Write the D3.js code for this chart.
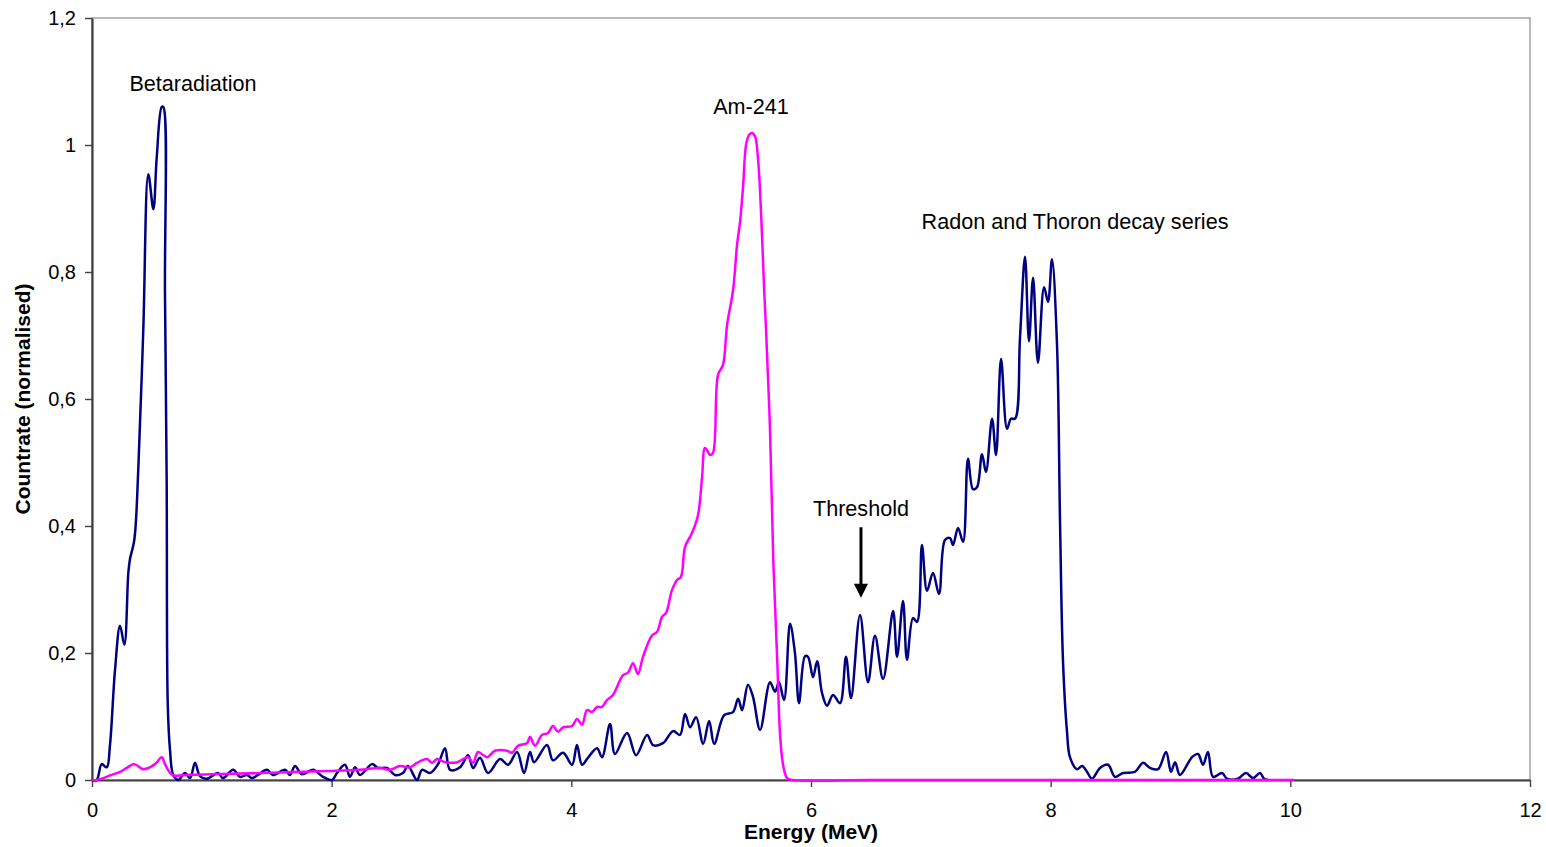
<!DOCTYPE html>
<html>
<head>
<meta charset="utf-8">
<script src="https://cdn.jsdelivr.net/npm/d3@7"></script>
<style>
  body { margin: 0; background: #fff; }
  text { font-family: "Liberation Sans", Arial, sans-serif; fill: #000; }
</style>
</head>
<body>
<svg width="1546" height="847"></svg>
<script>
// measured spectrum (dark blue), energy in MeV and normalised countrate
var spectrumEnergy = [0, 0.039, 0.081, 0.123, 0.150, 0.192, 0.234, 0.270, 0.303, 0.317, 0.353, 0.386, 0.428, 0.470, 0.512, 0.540, 0.582, 0.595, 0.609, 0.623, 0.632, 0.651, 0.678, 0.720,
    0.776, 0.818, 0.860, 0.901, 0.960, 1.051, 1.093, 1.177, 1.235, 1.293, 1.335, 1.385, 1.460, 1.510, 1.611, 1.652, 1.694, 1.752, 1.844, 1.928, 2.003, 2.044, 2.111, 2.153, 2.195, 2.236, 2.337, 2.387,
    2.462, 2.529, 2.595, 2.637, 2.712, 2.754, 2.821, 2.888, 2.946, 2.988, 3.071, 3.138, 3.180, 3.238, 3.305, 3.405, 3.472, 3.547, 3.605, 3.655, 3.689, 3.797, 3.847, 3.931, 4.006, 4.047, 4.089, 4.139,
    4.214, 4.256, 4.323, 4.364, 4.465, 4.540, 4.632, 4.682, 4.765, 4.849, 4.907, 4.949, 4.991, 5.041, 5.100, 5.150, 5.192, 5.275, 5.349, 5.392, 5.425, 5.474, 5.516, 5.575, 5.658, 5.700, 5.733, 5.775,
    5.825, 5.866, 5.900, 5.950, 5.975, 6.017, 6.051, 6.092, 6.134, 6.184, 6.242, 6.292, 6.334, 6.409, 6.476, 6.534, 6.601, 6.685, 6.718, 6.768, 6.801, 6.851, 6.885, 6.926, 6.968, 7.018, 7.068, 7.118,
    7.160, 7.185, 7.227, 7.269, 7.310, 7.352, 7.385, 7.427, 7.460, 7.511, 7.544, 7.586, 7.636, 7.669, 7.703, 7.744, 7.786, 7.819, 7.853, 7.894, 7.945, 7.978, 8.011, 8.053, 8.078, 8.103, 8.136, 8.161,
    8.220, 8.262, 8.303, 8.345, 8.412, 8.479, 8.537, 8.604, 8.704, 8.771, 8.829, 8.896, 8.963, 9.004, 9.038, 9.079, 9.180, 9.230, 9.271, 9.313, 9.355, 9.430, 9.472, 9.563, 9.630, 9.689, 9.747, 9.781, 9.814];
var spectrumCount = [0, 0, 0.025, 0.020, 0.055, 0.173, 0.243, 0.213, 0.326, 0.348, 0.378, 0.488, 0.709, 0.954, 0.899, 0.980, 1.060, 1.060, 0.767, 0.474, 0.121, 0.047, 0.008, 0,
    0.011, 0.003, 0.027, 0.006, 0.002, 0.011, 0.003, 0.016, 0.005, 0.008, 0.003, 0.008, 0.016, 0.008, 0.016, 0.008, 0.022, 0.009, 0.016, 0.005, 0, 0.011, 0.024, 0.005, 0.020, 0.008, 0.025, 0.019,
    0.019, 0.008, 0.011, 0.022, 0, 0.016, 0.011, 0.025, 0.050, 0.016, 0.020, 0.039, 0.019, 0.035, 0.011, 0.033, 0.024, 0.044, 0.011, 0.044, 0.028, 0.055, 0.031, 0.043, 0.024, 0.055, 0.024, 0.035,
    0.050, 0.036, 0.088, 0.041, 0.074, 0.039, 0.071, 0.055, 0.058, 0.077, 0.071, 0.104, 0.083, 0.099, 0.057, 0.093, 0.057, 0.102, 0.107, 0.128, 0.110, 0.150, 0.131, 0.079, 0.154, 0.139, 0.154, 0.126,
    0.246, 0.200, 0.121, 0.195, 0.194, 0.162, 0.187, 0.137, 0.117, 0.134, 0.121, 0.194, 0.129, 0.260, 0.154, 0.227, 0.159, 0.266, 0.194, 0.282, 0.189, 0.255, 0.249, 0.370, 0.298, 0.326, 0.293, 0.378,
    0.381, 0.370, 0.397, 0.375, 0.506, 0.458, 0.461, 0.513, 0.485, 0.569, 0.512, 0.663, 0.553, 0.569, 0.569, 0.696, 0.824, 0.691, 0.791, 0.657, 0.776, 0.753, 0.820, 0.685, 0.408, 0.187, 0.077, 0.036,
    0.017, 0.022, 0.013, 0.002, 0.019, 0.024, 0.005, 0.011, 0.013, 0.027, 0.019, 0.017, 0.044, 0.013, 0.028, 0.008, 0.036, 0.041, 0.024, 0.044, 0.005, 0.011, 0.002, 0.002, 0.011, 0.003, 0.011, 0.002, 0];

// Am-241 reference spectrum (magenta)
var amEnergy = [0, 0.040, 0.164, 0.248, 0.290, 0.353, 0.428, 0.526, 0.582, 0.609, 0.670, 0.776, 1.402, 1.961, 2.236, 2.403, 2.487, 2.570, 2.654, 2.712, 2.796, 2.837, 2.879, 2.946, 3.046,
    3.138, 3.180, 3.221, 3.296, 3.363, 3.463, 3.505, 3.555, 3.630, 3.655, 3.697, 3.755, 3.805, 3.847, 3.889, 3.931, 4.006, 4.047, 4.089, 4.131, 4.173, 4.214, 4.256, 4.298, 4.348, 4.431, 4.473, 4.515,
    4.556, 4.598, 4.674, 4.715, 4.757, 4.790, 4.840, 4.882, 4.915, 4.949, 5.007, 5.057, 5.091, 5.116, 5.158, 5.182, 5.224, 5.266, 5.300, 5.350, 5.383, 5.408, 5.433, 5.458, 5.484, 5.509, 5.534, 5.559,
    5.584, 5.609, 5.625, 5.658, 5.686, 5.719, 5.742, 5.767, 5.800, 5.842, 6.5, 8.0, 10.03];
var amCount = [0, 0, 0.008, 0.014, 0.019, 0.025, 0.017, 0.025, 0.036, 0.025, 0.008, 0.008, 0.011, 0.014, 0.016, 0.019, 0.016, 0.022, 0.020, 0.027, 0.033, 0.027, 0.033, 0.028, 0.028,
    0.036, 0.027, 0.044, 0.036, 0.046, 0.046, 0.043, 0.054, 0.058, 0.068, 0.054, 0.071, 0.074, 0.085, 0.076, 0.083, 0.085, 0.096, 0.087, 0.110, 0.107, 0.115, 0.115, 0.126, 0.134, 0.165, 0.169, 0.184,
    0.167, 0.194, 0.228, 0.233, 0.257, 0.263, 0.299, 0.315, 0.320, 0.367, 0.389, 0.417, 0.477, 0.523, 0.512, 0.515, 0.638, 0.654, 0.717, 0.772, 0.843, 0.879, 0.934, 1.000, 1.016, 1.019, 1.013, 0.976,
    0.890, 0.772, 0.709, 0.551, 0.342, 0.184, 0.071, 0.024, 0.003, 0, 0, 0, 0];

var xTicks = [0, 2, 4, 6, 8, 10, 12];
var yTicks = [0, 0.2, 0.4, 0.6, 0.8, 1, 1.2];

var labelText = ["Betaradiation", "Am-241", "Radon and Thoron decay series", "Threshold"];
var labelEnergy = [0.843, 5.499, 8.203, 6.417];
var labelCount = [1.085, 1.049, 0.868, 0.416];

// threshold arrow, from / to
var arrowEnergy = 6.417;
var arrowFrom = 0.398, arrowTo = 0.287;

var svg = d3.select("svg");

var x = d3.scaleLinear().domain([0, 12]).range([92, 1530]),
    y = d3.scaleLinear().domain([0, 1.2]).range([780, 18]);

// plot frame
svg.append("rect")
    .attr("x", x(0)).attr("y", y(1.2))
    .attr("width", x(12) - x(0)).attr("height", y(0) - y(1.2))
    .attr("fill", "none").attr("stroke", "#8c8c8c").attr("stroke-width", 1.2);

// axes (drawn before the lines, the spectra lie over them)
var xAxis = svg.append("g")
    .attr("transform", "translate(0," + y(0) + ")")
    .call(d3.axisBottom(x).tickValues(xTicks).tickSize(7).tickSizeOuter(0).tickPadding(16)
        .tickFormat(function (d) { return String(d); }));

var yAxis = svg.append("g")
    .attr("transform", "translate(" + x(0) + ",0)")
    .call(d3.axisLeft(y).tickValues(yTicks).tickSize(7).tickSizeOuter(0).tickPadding(9)
        .tickFormat(function (d) { return String(d).replace(".", ","); }));

[xAxis, yAxis].forEach(function (g) {
    g.select(".domain").attr("stroke", "#404040").attr("stroke-width", 2.2);
    g.selectAll(".tick line").attr("stroke", "#404040").attr("stroke-width", 1.4);
    g.selectAll("text").attr("font-family", "Liberation Sans, Arial, sans-serif")
        .attr("font-size", 20).attr("fill", "#000");
});

function spectrum(xs, ys) {
    return xs.map(function (e, i) { return [e, ys[i]]; });
}

var line = d3.line()
    .x(function (d) { return x(d[0]); })
    .y(function (d) { return y(Math.max(0, d[1])); })
    .curve(d3.curveCatmullRom.alpha(0.5));

svg.append("path")
    .datum(spectrum(spectrumEnergy, spectrumCount))
    .attr("d", line)
    .attr("fill", "none").attr("stroke", "#000080").attr("stroke-width", 2.5)
    .attr("stroke-linejoin", "round");

svg.append("path")
    .datum(spectrum(amEnergy, amCount))
    .attr("d", line)
    .attr("fill", "none").attr("stroke", "#ff00ff").attr("stroke-width", 2.5)
    .attr("stroke-linejoin", "round");

svg.append("text")
    .attr("x", (x(0) + x(12)) / 2).attr("y", 839)
    .attr("text-anchor", "middle").attr("font-size", 21).attr("font-weight", "bold")
    .text("Energy (MeV)");

svg.append("text")
    .attr("transform", "translate(30," + (y(0) + y(1.2)) / 2 + ") rotate(-90)")
    .attr("text-anchor", "middle").attr("font-size", 21).attr("font-weight", "bold")
    .text("Countrate (normalised)");

// annotations
labelText.forEach(function (t, i) {
    svg.append("text")
        .attr("x", x(labelEnergy[i])).attr("y", y(labelCount[i]))
        .attr("text-anchor", "middle").attr("font-size", 21.6)
        .text(t);
});

var ax = x(arrowEnergy), ay1 = y(arrowFrom), ay2 = y(arrowTo);
svg.append("line")
    .attr("x1", ax).attr("x2", ax).attr("y1", ay1).attr("y2", ay2 - 12)
    .attr("stroke", "#000").attr("stroke-width", 3);
svg.append("path")
    .attr("d", "M" + (ax - 7) + "," + (ay2 - 14) + "L" + (ax + 7) + "," + (ay2 - 14) + "L" + ax + "," + ay2 + "Z")
    .attr("fill", "#000");
</script>
</body>
</html>
